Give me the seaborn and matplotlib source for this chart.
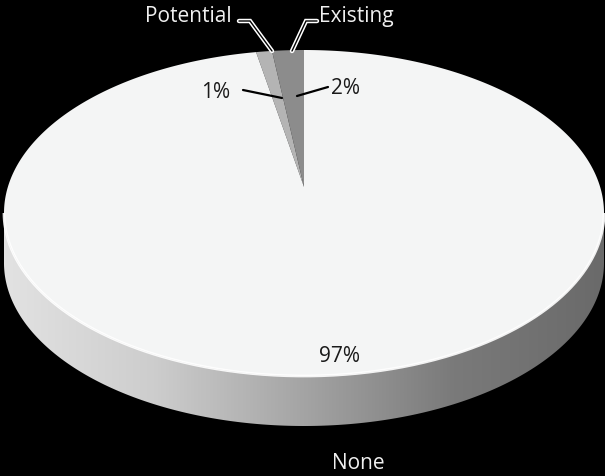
import numpy as np
import matplotlib
matplotlib.use("Agg")
import matplotlib.pyplot as plt
import matplotlib.transforms as mtransforms
from matplotlib.path import Path
from matplotlib.colors import LinearSegmentedColormap
import seaborn as sns

# ---- data ----
categories = ["Existing", "Potential", "None"]
values = [2, 1, 97]
pct_labels = ["2%", "1%", "97%"]
slice_colors = ["#8c8c8c", "#b4b4b4", "#f4f5f5"]

sns.set_style("dark")
plt.rcParams["font.family"] = ["Open Sans", "DejaVu Sans"]

W, H = 605, 477
fig = plt.figure(figsize=(W / 100, H / 100), dpi=100, facecolor="black")
ax = fig.add_axes([0, 0, 1, 1])
ax.set_facecolor("black")

# ellipse geometry (pixels)
cx, cy, a, b = 304, 214, 300, 163
depth = 50 / b
K = 0.16                 # perspective tilt (circle maps onto itself)
M = np.sqrt(1 - K ** 2)


class Persp(mtransforms.Transform):
    input_dims = output_dims = 2
    is_separable = False
    has_inverse = False

    def transform_non_affine(self, v):
        v = np.asarray(v, float)
        x, y = v[:, 0], v[:, 1]
        d = 1 + K * y
        return np.column_stack([M * x / d, (y + K) / d])

    def transform_path_non_affine(self, path):
        pts = []
        tt = np.linspace(0, 1, 40)
        for bez, code in path.iter_bezier():
            if code == Path.MOVETO:
                pts.append(np.atleast_2d(bez(0.0)))
            else:
                pts.append(np.atleast_2d(bez(tt[1:])))
        v = np.vstack(pts)
        tv = self.transform_non_affine(v)
        codes = [Path.MOVETO] + [Path.LINETO] * (len(tv) - 1)
        tv = np.vstack([tv, tv[:1]])
        codes.append(Path.CLOSEPOLY)
        return Path(tv, codes)


def px(x, y):
    return (x - cx) / a, (cy - y) / b


# side of the 3D pie (front half)
t = np.linspace(np.pi, 2 * np.pi, 400)
xs = np.cos(t)
ys = np.sin(t)
poly_x = np.concatenate([xs, xs[::-1]])
poly_y = np.concatenate([ys, ys[::-1] - depth])
side, = ax.fill(poly_x, poly_y, color="none", lw=0)
cmap = LinearSegmentedColormap.from_list(
    "side", ["#e2e2e2", "#cdcdcd", "#a4a4a4", "#7a7a7a", "#6a6a6a"])
grad = np.linspace(0, 1, 512)[None, :]
im = ax.imshow(grad, cmap=cmap, extent=[-1, 1, -1 - depth, 0.05],
               aspect="auto", zorder=1, interpolation="bilinear")
im.set_clip_path(side)

# top face via the pie
wedges, _ = ax.pie(values, colors=slice_colors, startangle=90,
                   counterclock=True, radius=1, center=(0, 0),
                   wedgeprops=dict(linewidth=0), frame=True)
persp = Persp()
for w in wedges:
    w.set_transform(persp + ax.transData)
    w.set_zorder(2)

# soft rim on the front edge of the top face
ax.plot(xs, ys, color="white", lw=2.0, alpha=0.9, zorder=3,
        solid_capstyle="butt")

ax.set_aspect("auto")
x0, y0 = px(0, H)
x1, y1 = px(W, 0)
ax.set_xlim(x0, x1)
ax.set_ylim(y0, y1)
ax.axis("off")

# category labels (white) with leader lines
fs = 15
ax.text(*px(145, 17), categories[1], color="#f0f0f0", fontsize=fs,
        ha="left", va="center", zorder=5)
ax.text(*px(319, 17), categories[0], color="#f0f0f0", fontsize=fs,
        ha="left", va="center", zorder=5)
ax.text(*px(358, 464), categories[2], color="#f0f0f0", fontsize=fs,
        ha="center", va="center", zorder=5)

for pts in ([(239, 22), (250, 22), (272, 52)], [(317, 22), (306, 22), (292, 52)]):
    lx, ly = zip(*[px(*p) for p in pts])
    ax.plot(lx, ly, color="white", lw=3.2, zorder=4, solid_joinstyle="miter")
    ax.plot(lx, ly, color="black", lw=1.0, zorder=4.5, solid_joinstyle="miter")

# percentage labels (black)
ax.text(*px(216, 93), pct_labels[1], color="#1a1a1a", fontsize=fs,
        ha="center", va="center", zorder=5)
ax.text(*px(346, 89), pct_labels[0], color="#1a1a1a", fontsize=fs,
        ha="center", va="center", zorder=5)
ax.text(*px(340, 357), pct_labels[2], color="#1a1a1a", fontsize=fs,
        ha="center", va="center", zorder=5)

for pts in ([(243, 91), (282, 99)], [(297, 97), (328, 88)]):
    lx, ly = zip(*[px(*p) for p in pts])
    ax.plot(lx, ly, color="black", lw=1.6, zorder=4)

fig.savefig("out.png", dpi=100, facecolor="black")
